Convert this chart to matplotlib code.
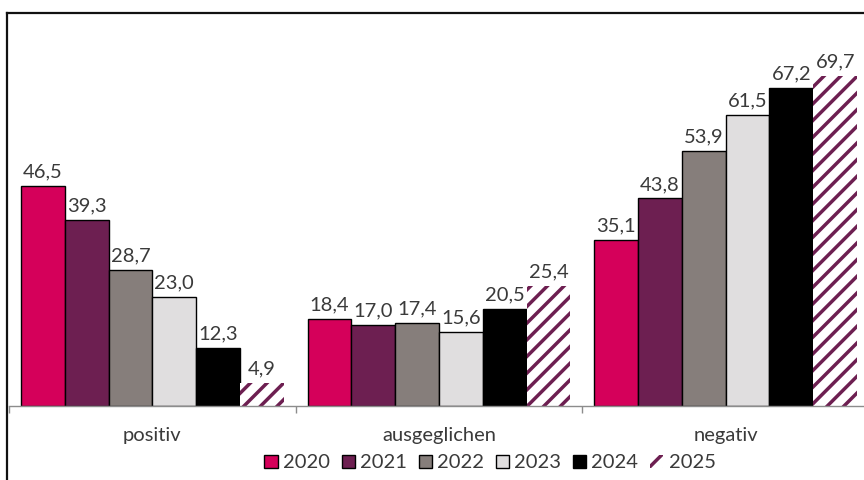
import matplotlib
matplotlib.use("Agg")
import matplotlib.pyplot as plt
from matplotlib.patches import Patch
from matplotlib.lines import Line2D
import numpy as np

categories = ["positiv", "ausgeglichen", "negativ"]
years = ["2020", "2021", "2022", "2023", "2024", "2025"]
values = {
    "2020": [46.5, 18.4, 35.1],
    "2021": [39.3, 17.0, 43.8],
    "2022": [28.7, 17.4, 53.9],
    "2023": [23.0, 15.6, 61.5],
    "2024": [12.3, 20.5, 67.2],
    "2025": [4.9, 25.4, 69.7],
}
colors = {
    "2020": "#D5005A",
    "2021": "#6D1F51",
    "2022": "#867E7B",
    "2023": "#E0DEDF",
    "2024": "#000000",
    "2025": "#FFFFFF",
}
hatch_color = "#6D1F51"

plt.rcParams['font.family'] = ['Lato', 'DejaVu Sans']
plt.rcParams['hatch.linewidth'] = 2.5
plt.rcParams['hatch.color'] = hatch_color

W, H = 864, 480
fig = plt.figure(figsize=(W / 100, H / 100), dpi=100)
ax_left = 9 / W
ax_bottom = (H - 405.7) / H
ax_top = (H - 13) / H
ax = fig.add_axes([ax_left, ax_bottom, 860 / W, ax_top - ax_bottom])

px_per_unit = 220 / 46.5
ax.set_ylim(0, (405.7 - 13) / px_per_unit)
ax.set_xlim(-0.5, 2.5)

x = np.arange(len(categories))
w = 43.8 / 286.7
text_color = "#3A3A3A"
fs = 14.5
for i, yr in enumerate(years):
    off = (i - 2.5) * w
    vals = values[yr]
    if yr == "2025":
        bars = ax.bar(x + off, vals, w, color="white", edgecolor=hatch_color,
                      linewidth=0, hatch="//", zorder=2)
    else:
        bars = ax.bar(x + off, vals, w, color=colors[yr], edgecolor="black",
                      linewidth=1.0, zorder=2)
    for b, v in zip(bars, vals):
        ax.annotate(f"{v:.1f}".replace(".", ","),
                    (b.get_x() + b.get_width() / 2, v),
                    xytext=(0, 4), textcoords="offset points",
                    ha="center", va="bottom", fontsize=fs, color=text_color)

for s in ["top", "right", "left"]:
    ax.spines[s].set_visible(False)
ax.spines["bottom"].set_color("#8C8C8C")
ax.spines["bottom"].set_linewidth(1.0)
ax.set_yticks([])
ax.set_xticks(x)
ax.set_xticklabels(categories, fontsize=fs, color=text_color)
ax.tick_params(axis="x", which="major", length=0, pad=15)
ax.set_xticks([-0.5, 0.5, 1.5, 2.5], minor=True)
ax.tick_params(axis="x", which="minor", length=5, width=1.0, color="#8C8C8C",
               direction="out")
ax.patch.set_alpha(0)

# outer chart frame (cropped)
fig.add_artist(Line2D([7 / W, 7 / W], [0, (H - 13) / H], color="#111111",
                      linewidth=1.6, transform=fig.transFigure))
fig.add_artist(Line2D([7 / W, 1], [(H - 13) / H, (H - 13) / H], color="#111111",
                      linewidth=1.6, transform=fig.transFigure))

handles = []
for yr in years:
    if yr == "2025":
        handles.append(Patch(facecolor="white", edgecolor=hatch_color,
                             linewidth=0, hatch="//", label=yr))
    else:
        handles.append(Patch(facecolor=colors[yr], edgecolor="black",
                             linewidth=1.0, label=yr))
fig.legend(handles=handles, loc="center", bbox_to_anchor=(490 / W, 1 - 463 / H),
           ncol=6, frameon=False, fontsize=fs, handlelength=0.65,
           handleheight=0.65, handletextpad=0.25, columnspacing=0.6,
           labelcolor=text_color)

fig.savefig("out.png", dpi=100)
